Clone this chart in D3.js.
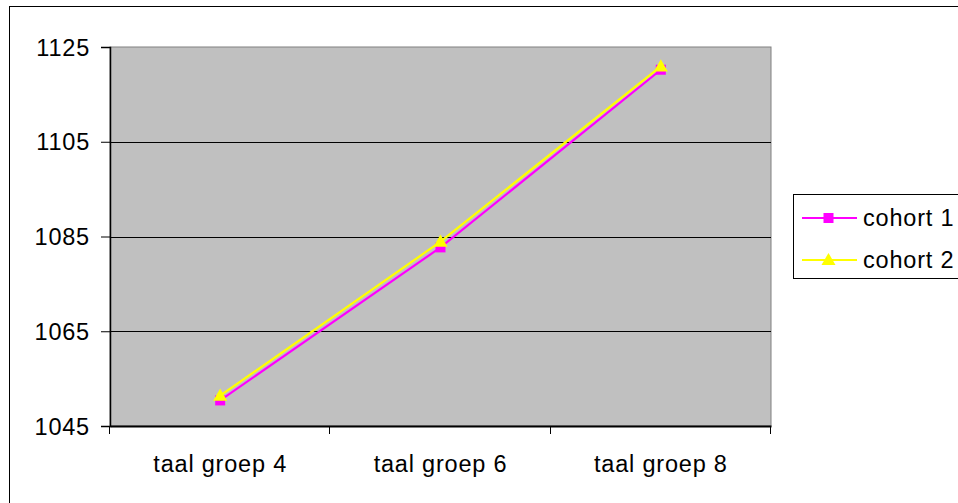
<!DOCTYPE html>
<html><head><meta charset="utf-8">
<script src="https://cdn.jsdelivr.net/npm/d3@7"></script>
<style>html,body{margin:0;padding:0;background:#fff;overflow:hidden}</style>
</head><body>
<svg id="c" width="958" height="503"></svg>
<script>
const categories = ["taal groep 4", "taal groep 6", "taal groep 8"];
const cohort1 = [1050.4, 1082.7, 1120.2];
const cohort2 = [1051.4, 1083.9, 1120.9];
const seriesNames = ["cohort 1", "cohort 2"];
const yTicks = [1045, 1065, 1085, 1105, 1125];

const svg = d3.select("#c");
const font = "'Liberation Sans', Arial, sans-serif";
const fs = 23.5, ls = 0.8;

// outer chart border
svg.append("rect").attr("x", 9.5).attr("y", 6.5).attr("width", 1000).attr("height", 600)
  .attr("fill", "#fff").attr("stroke", "#000").attr("stroke-width", 1);

const L = 110, R = 771, T = 47, B = 426;
const x = d3.scaleBand().domain(categories).range([L, R]).padding(0);
const y = d3.scaleLinear().domain([1045, 1125]).range([B, T]);

// plot area
svg.append("rect").attr("x", L).attr("y", T).attr("width", R - L).attr("height", B - T)
  .attr("fill", "#C0C0C0").attr("stroke", "#808080").attr("stroke-width", 1);

// gridlines
svg.append("g").selectAll("line").data(yTicks.filter(d => d > 1045 && d < 1125)).join("line")
  .attr("x1", L).attr("x2", R).attr("y1", d => Math.round(y(d)) + 0.5).attr("y2", d => Math.round(y(d)) + 0.5)
  .attr("stroke", "#000").attr("stroke-width", 1);

// y axis
const yAxis = svg.append("g").attr("transform", `translate(${L},0)`)
  .call(d3.axisLeft(y).tickValues(yTicks).tickSize(9).tickPadding(11).tickFormat(d3.format("d")));
yAxis.select(".domain").attr("stroke", "#000").attr("stroke-width", 1.5);
yAxis.selectAll("line").attr("stroke", "#000");
yAxis.selectAll("text").attr("font-family", font).attr("font-size", fs).attr("fill", "#000")
  .attr("letter-spacing", ls).attr("dy", "0.35em");

// x axis
const xAxis = svg.append("g").attr("transform", `translate(0,${B})`)
  .call(d3.axisBottom(x).tickSize(0).tickPadding(29));
xAxis.select(".domain").attr("stroke", "#000").attr("stroke-width", 2);
xAxis.selectAll("text").attr("font-family", font).attr("font-size", fs).attr("fill", "#000")
  .attr("letter-spacing", ls);
// category boundary ticks
const bounds = categories.map(c => x(c)).concat([x(categories[categories.length - 1]) + x.bandwidth()]);
svg.append("g").selectAll("line").data(bounds).join("line")
  .attr("x1", d => Math.round(d) - 0.5).attr("x2", d => Math.round(d) - 0.5)
  .attr("y1", B).attr("y2", B + 8).attr("stroke", "#000").attr("stroke-width", 1);

const cx = c => x(c) + x.bandwidth() / 2;
const line = d3.line().x((d, i) => cx(categories[i])).y(d => y(d));
const colors = ["#FF00FF", "#FFFF00"];
const tri = d3.symbol().type(d3.symbolTriangle).size(85);

// series 1
svg.append("path").datum(cohort1).attr("d", line).attr("fill", "none")
  .attr("stroke", colors[0]).attr("stroke-width", 2.2);
svg.append("g").selectAll("rect").data(cohort1).join("rect")
  .attr("x", (d, i) => cx(categories[i]) - 5).attr("y", d => y(d) - 5)
  .attr("width", 10).attr("height", 10).attr("fill", colors[0]);

// series 2
svg.append("path").datum(cohort2).attr("d", line).attr("fill", "none")
  .attr("stroke", colors[1]).attr("stroke-width", 2.2);
svg.append("g").selectAll("path").data(cohort2).join("path")
  .attr("d", tri).attr("transform", (d, i) => `translate(${cx(categories[i])},${y(d) + 1})`)
  .attr("fill", colors[1]);

// legend
const lg = svg.append("g");
lg.append("rect").attr("x", 793.5).attr("y", 194.5).attr("width", 200).attr("height", 84)
  .attr("fill", "#fff").attr("stroke", "#000").attr("stroke-width", 1);
const rows = [218, 260];
seriesNames.forEach((n, i) => {
  const yy = rows[i];
  lg.append("line").attr("x1", 802).attr("x2", 857).attr("y1", yy).attr("y2", yy)
    .attr("stroke", colors[i]).attr("stroke-width", 2.2);
  if (i === 0) {
    lg.append("rect").attr("x", 823.5).attr("y", yy - 5).attr("width", 10).attr("height", 10).attr("fill", colors[0]);
  } else {
    lg.append("path").attr("d", tri).attr("transform", `translate(828.5,${yy + 1})`).attr("fill", colors[1]);
  }
  lg.append("text").attr("x", 863).attr("y", yy + 7.5).attr("font-family", font).attr("font-size", fs)
    .attr("letter-spacing", ls).attr("fill", "#000").text(n);
});
</script>
</body></html>
